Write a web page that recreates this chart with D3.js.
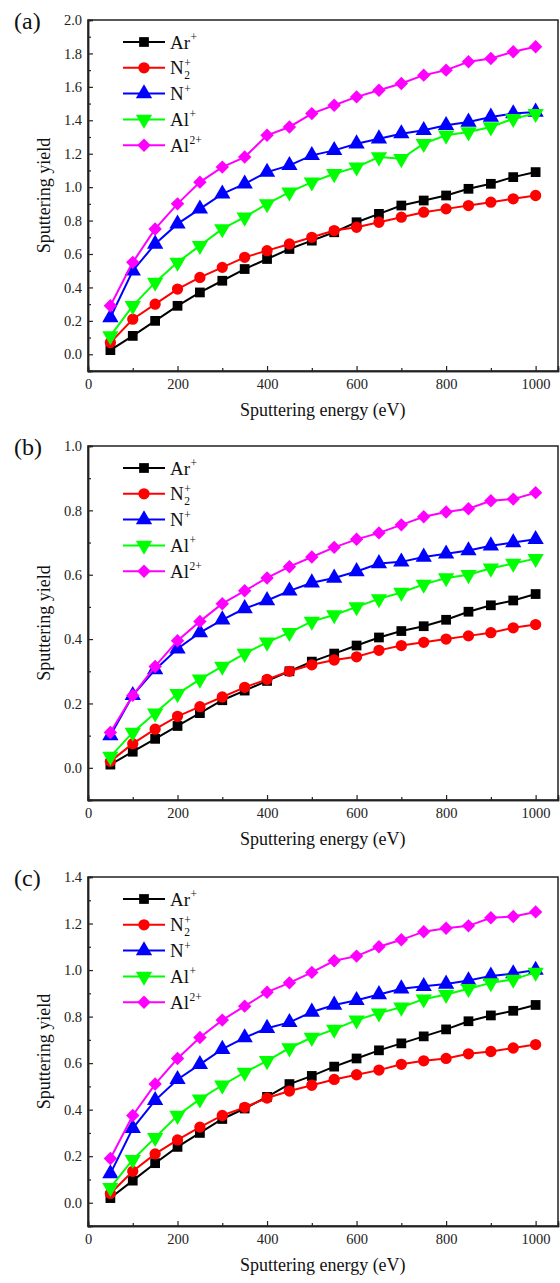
<!DOCTYPE html>
<html><head><meta charset="utf-8">
<script src="https://cdn.jsdelivr.net/npm/d3@7"></script>
<style>
body{margin:0;background:#fff}
svg{display:block}
text{font-family:"Liberation Serif","Times New Roman",serif;fill:#111}
</style>
</head><body>
<svg id="chart" width="560" height="1283"></svg>
<script>
// ---------- data ----------
const energies = [50,100,150,200,250,300,350,400,450,500,550,600,650,700,750,800,850,900,950,1000];
const seriesKeys = ["Ar+","N2+","N+","Al+","Al2+"];
const seriesColors = ["#000000","#ff0000","#0000ff","#00ff00","#ff00ff"];
const panelLabels = ["(a)","(b)","(c)"];
const xTicks = [0,200,400,600,800,1000];
const xMinorTicks = [100,300,500,700,900];

// panel (a)
const yTicksA = [0.0,0.2,0.4,0.6,0.8,1.0,1.2,1.4,1.6,1.8,2.0];
const arA  = [0.025,0.11,0.20,0.29,0.37,0.44,0.51,0.57,0.63,0.68,0.73,0.79,0.84,0.89,0.92,0.95,0.99,1.02,1.06,1.09];
const n2A  = [0.07,0.21,0.30,0.39,0.46,0.52,0.58,0.62,0.66,0.70,0.74,0.76,0.79,0.82,0.85,0.87,0.89,0.91,0.93,0.95];
const nA   = [0.22,0.50,0.66,0.78,0.87,0.96,1.02,1.09,1.13,1.19,1.22,1.26,1.29,1.32,1.34,1.37,1.39,1.42,1.44,1.45];
const alA  = [0.11,0.29,0.43,0.55,0.65,0.75,0.82,0.90,0.97,1.03,1.08,1.12,1.18,1.17,1.26,1.31,1.33,1.36,1.41,1.44];
const al2A = [0.29,0.55,0.75,0.90,1.03,1.12,1.18,1.31,1.36,1.44,1.49,1.54,1.58,1.62,1.67,1.70,1.75,1.77,1.81,1.84];

// panel (b)
const yTicksB = [0.0,0.2,0.4,0.6,0.8,1.0];
const arB  = [0.01,0.05,0.09,0.13,0.17,0.21,0.24,0.27,0.30,0.33,0.355,0.38,0.405,0.425,0.44,0.46,0.485,0.505,0.52,0.54];
const n2B  = [0.02,0.075,0.12,0.16,0.19,0.22,0.25,0.275,0.30,0.32,0.335,0.345,0.365,0.38,0.39,0.40,0.41,0.42,0.435,0.445];
const nB   = [0.10,0.225,0.305,0.37,0.42,0.46,0.495,0.52,0.55,0.575,0.59,0.61,0.635,0.64,0.655,0.665,0.675,0.69,0.70,0.71];
const alB  = [0.035,0.11,0.17,0.23,0.275,0.315,0.355,0.39,0.42,0.455,0.475,0.50,0.525,0.545,0.57,0.59,0.60,0.62,0.635,0.65];
const al2B = [0.11,0.225,0.315,0.395,0.455,0.51,0.55,0.59,0.625,0.655,0.685,0.71,0.73,0.755,0.78,0.795,0.805,0.83,0.835,0.855];

// panel (c)
const yTicksC = [0.0,0.2,0.4,0.6,0.8,1.0,1.2,1.4];
const arC  = [0.02,0.095,0.17,0.24,0.30,0.36,0.405,0.455,0.51,0.545,0.585,0.62,0.655,0.685,0.715,0.745,0.78,0.805,0.825,0.85];
const n2C  = [0.04,0.135,0.21,0.27,0.325,0.375,0.41,0.45,0.48,0.505,0.53,0.55,0.57,0.595,0.61,0.62,0.64,0.65,0.665,0.68];
const nC   = [0.125,0.32,0.44,0.53,0.595,0.66,0.71,0.75,0.775,0.82,0.85,0.87,0.895,0.92,0.93,0.94,0.955,0.975,0.985,1.0];
const alC  = [0.065,0.185,0.28,0.375,0.445,0.505,0.56,0.61,0.665,0.71,0.745,0.785,0.815,0.84,0.875,0.895,0.92,0.945,0.96,0.99];
const al2C = [0.19,0.375,0.51,0.62,0.71,0.785,0.845,0.905,0.945,0.99,1.04,1.06,1.10,1.13,1.165,1.18,1.19,1.225,1.23,1.25];

// ---------- layout ----------
const panels = [
  {label:panelLabels[0], top:20,  bottom:371,  yMin:-0.1, yMax:2.0, ticks:yTicksA, series:[arA,n2A,nA,alA,al2A]},
  {label:panelLabels[1], top:446, bottom:800,  yMin:-0.1, yMax:1.0, ticks:yTicksB, series:[arB,n2B,nB,alB,al2B]},
  {label:panelLabels[2], top:877, bottom:1226, yMin:-0.1, yMax:1.4, ticks:yTicksC, series:[arC,n2C,nC,alC,al2C]}
];
const left = 88, right = 558;
const FONT = '"Liberation Serif","Times New Roman",serif';
const svg = d3.select("#chart");
const x = d3.scaleLinear().domain([0,1050]).range([left,right]);

const symbolTypes = [d3.symbolSquare, d3.symbolCircle, d3.symbolTriangle, d3.symbolTriangle, d3.symbolSquare];
const symbolSizes = [95, 100, 115, 115, 90];
const symbolRot = [0,0,0,180,45];

function drawMarker(g, i, cx, cy){
  g.append("path")
    .attr("d", d3.symbol().type(symbolTypes[i]).size(symbolSizes[i])())
    .attr("transform", `translate(${cx},${cy}) rotate(${symbolRot[i]})`)
    .attr("fill", seriesColors[i]);
}

panels.forEach(p => {
  const g = svg.append("g");
  const y = d3.scaleLinear().domain([p.yMin,p.yMax]).range([p.bottom,p.top]);
  const minorY = [];
  for (let v = p.yMin; v < p.yMax - 1e-9; v += 0.2) minorY.push(+v.toFixed(2));
  // frame
  g.append("rect").attr("x",left).attr("y",p.top).attr("width",right-left).attr("height",p.bottom-p.top)
    .attr("fill","none").attr("stroke","#222").attr("stroke-width",1.5);
  // axes
  g.append("g").attr("transform",`translate(0,${p.bottom})`)
    .call(d3.axisBottom(x).tickValues(xTicks).tickSize(-5).tickPadding(8).tickFormat(d3.format("d")));
  g.append("g").attr("transform",`translate(0,${p.bottom})`)
    .call(d3.axisBottom(x).tickValues(xMinorTicks).tickSize(-3).tickFormat(""));
  g.append("g").attr("transform",`translate(${left},0)`)
    .call(d3.axisLeft(y).tickValues(p.ticks).tickSize(-5).tickPadding(6).tickFormat(d3.format(".1f")));
  g.append("g").attr("transform",`translate(${left},0)`)
    .call(d3.axisLeft(y).tickValues(minorY).tickSize(-3).tickFormat(""));
  g.selectAll("g").attr("font-family",FONT);
  g.selectAll(".domain").attr("stroke","#222").attr("stroke-width",1.5);
  g.selectAll(".tick line").attr("stroke","#222").attr("stroke-width",1.2);
  g.selectAll(".tick text").style("font-family",FONT).style("font-size","14.5px").style("fill","#222");

  // series
  p.series.forEach((vals,i) => {
    const pts = energies.map((e,k)=>[e,vals[k]]);
    g.append("path").datum(pts)
      .attr("d", d3.line().x(d=>x(d[0])).y(d=>y(d[1])))
      .attr("fill","none").attr("stroke",seriesColors[i]).attr("stroke-width",2);
    pts.forEach(d => drawMarker(g, i, x(d[0]), y(d[1])));
  });

  // legend
  const lx0 = 123, lx1 = 165;
  seriesKeys.forEach((k,i) => {
    const ly = p.top + 22 + i*25.8;
    g.append("line").attr("x1",lx0).attr("x2",lx1).attr("y1",ly).attr("y2",ly)
      .attr("stroke",seriesColors[i]).attr("stroke-width",2);
    drawMarker(g, i, (lx0+lx1)/2, ly);
    const base = k.startsWith("Ar") ? "Ar" : (k.startsWith("Al") ? "Al" : "N");
    const t = g.append("text").attr("x",170).attr("y",ly+6.5).attr("font-size",19).text(base);
    const w = t.node().getComputedTextLength();
    if (k==="N2+") {
      g.append("text").attr("x",170+w+0.5).attr("y",ly-1).attr("font-size",11.5).text("+");
      g.append("text").attr("x",170+w+0.5).attr("y",ly+11.5).attr("font-size",11.5).text("2");
    } else {
      g.append("text").attr("x",170+w+0.5).attr("y",ly-1).attr("font-size",11.5).text(k==="Al2+"?"2+":"+");
    }
  });

  // titles
  g.append("text").attr("x",(x(0)+x(1000))/2 + 11).attr("y",p.bottom+45).attr("text-anchor","middle")
    .attr("font-size",18).text("Sputtering energy (eV)");
  g.append("text").attr("transform",`translate(50,${(p.top+p.bottom)/2}) rotate(-90)`)
    .attr("text-anchor","middle").attr("font-size",18).text("Sputtering yield");
  g.append("text").attr("x",14).attr("y",p.top+9).attr("font-size",24).text(p.label);
});
</script>
</body></html>
